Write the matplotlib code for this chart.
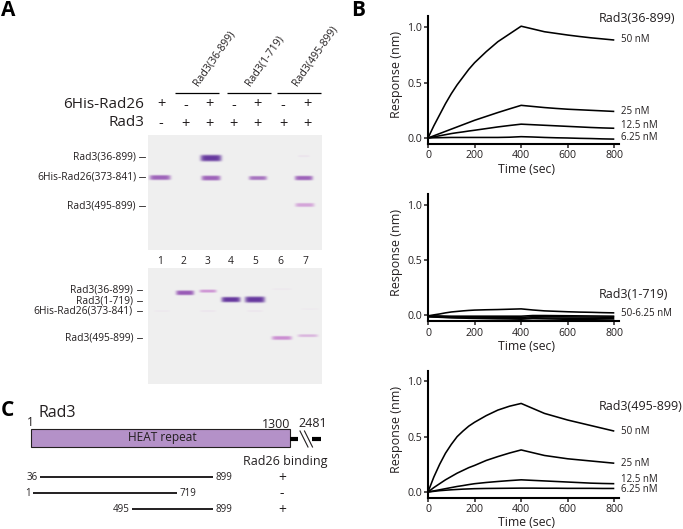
import numpy as np
import matplotlib
matplotlib.use("Agg")
import matplotlib.pyplot as plt
from matplotlib.patches import Rectangle

plt.rcParams['font.family'] = ['Open Sans', 'DejaVu Sans']
INK = '#231f20'
W, H = 683, 529

# ---- BLI sensorgrams
time_fine = [0, 25, 50, 75, 100, 125, 150, 175, 200, 250, 300, 350, 400, 450, 500, 550, 600, 650, 700, 750, 800]
a_50 = [0, .11, .21, .31, .40, .48, .55, .62, .68, .78, .87, .94, 1.01, .985, .96, .945, .93, .917, .905, .895, .885]
a_25 = [0, .02, .04, .06, .08, .10, .12, .14, .16, .195, .23, .263, .295, .285, .275, .267, .26, .255, .25, .245, .24]
a_12 = [0, .01, .02, .03, .04, .048, .055, .063, .07, .085, .10, .113, .125, .12, .115, .11, .105, .10, .095, .091, .088]
a_6 = [0, .002, .003, .004, .005, .005, .005, .005, .005, .005, .005, .007, .012, .009, .005, .002, 0, -.003, -.005, -.008, -.01]
b_top = [-.005, .004, .012, .022, .03, .035, .04, .044, .047, .05, .052, .055, .058, .048, .04, .036, .032, .029, .027, .024, .022]
b_2 = [-.005, -.005, -.006, -.007, -.008, -.008, -.008, -.008, -.008, -.008, -.008, -.008, -.008, -.002, -.002, -.003, -.004, -.005, -.006, -.007, -.008]
b_3 = [-.01, -.011, -.012, -.013, -.014, -.015, -.015, -.016, -.016, -.017, -.018, -.018, -.02, -.012, -.012, -.013, -.014, -.015, -.016, -.017, -.018]
b_4 = [-.012, -.014, -.016, -.018, -.02, -.021, -.022, -.023, -.024, -.025, -.026, -.027, -.03, -.022, -.024, -.025, -.026, -.027, -.028, -.029, -.03]
b_5 = [-.012, -.015, -.018, -.02, -.022, -.024, -.025, -.027, -.028, -.03, -.032, -.033, -.035, -.03, -.032, -.034, -.036, -.038, -.04, -.042, -.044]
c_50 = [0, .135, .25, .35, .43, .50, .55, .595, .63, .69, .74, .775, .80, .755, .71, .68, .65, .625, .60, .575, .55]
c_25 = [0, .04, .075, .11, .14, .17, .195, .22, .24, .285, .32, .352, .38, .355, .33, .315, .30, .29, .28, .27, .26]
c_12 = [0, .01, .02, .03, .04, .05, .058, .067, .075, .086, .095, .103, .11, .105, .10, .095, .09, .085, .08, .077, .075]
c_6 = [0, .006, .012, .016, .02, .023, .026, .028, .03, .032, .033, .034, .035, .035, .034, .034, .033, .033, .033, .032, .032]

panel_series = [[a_50, a_25, a_12, a_6], [b_top, b_2, b_3, b_4, b_5], [c_50, c_25, c_12, c_6]]
x_ticks = [0, 200, 400, 600, 800]
y_ticks = [0.0, 0.5, 1.0]
axis_box_px = [(16, 144), (194, 321.3), (370.7, 498)]   # top, bottom of each y axis

curve_titles = ['Rad3(36-899)', 'Rad3(1-719)', 'Rad3(495-899)']
title_y = [19, 295, 406]
conc_labels = [[('50 nM', 40), ('25 nM', 112), ('12.5 nM', 125), ('6.25 nM', 137)],
               [('50-6.25 nM', 314)],
               [('50 nM', 431), ('25 nM', 464), ('12.5 nM', 480), ('6.25 nM', 490)]]

# ---- Gels: centre x, centre y, half width, half height, strength, colour key
gel_boxes = [(148, 322, 135, 250), (148, 322, 268, 384)]
gel_bands = [
    (160, 177.5, 10.5, 2.4, .85, 'm'), (211, 158, 10.5, 3.2, 1.0, 'd'),
    (211, 178, 9.5, 2.4, .85, 'm'), (258, 178, 9, 2.0, .75, 'm'),
    (304, 178, 9, 2.2, .85, 'm'), (305, 205, 9.5, 1.9, .50, 'p'),
    (304, 156, 6, 1.0, .08, 'p'),
    (185, 292.7, 9, 2.3, .90, 'm'), (208, 291, 8.5, 1.5, .60, 'p'),
    (231, 299.5, 9.5, 2.6, 1.0, 'd'), (255, 299.5, 10, 3.0, 1.0, 'd'),
    (282, 338, 10, 1.9, .65, 'p'), (308, 335.7, 10, 1.4, .38, 'p'),
    (162, 311, 8, .9, .05, 'p'), (208, 311, 8, .9, .07, 'p'),
    (255, 311, 8, .9, .07, 'p'), (282, 289, 10, .9, .05, 'p'),
    (310, 309, 9, .9, .04, 'p'),
]
band_colours = {'d': (0.40, 0.22, 0.62), 'm': (0.56, 0.29, 0.69), 'p': (0.72, 0.35, 0.76)}
gel_bg = (0.94, 0.94, 0.94)

lane_x = [161, 186, 210, 234, 258, 283, 307]
rad26_row = ['+', '-', '+', '-', '+', '-', '+']
rad3_row = ['-', '+', '+', '+', '+', '+', '+']
lane_nums = ['1', '2', '3', '4', '5', '6', '7']
lane_num_x = [160, 183, 208, 231, 255, 280, 305]
groups = [('Rad3(36-899)', 175, 219, 200), ('Rad3(1-719)', 227, 271, 252), ('Rad3(495-899)', 277, 321, 299)]
gel1_labels = [('Rad3(36-899)', 157), ('6His-Rad26(373-841)', 177), ('Rad3(495-899)', 206)]
gel2_labels = [('Rad3(36-899)', 290), ('Rad3(1-719)', 300.7), ('6His-Rad26(373-841)', 311), ('Rad3(495-899)', 337.7)]

# ---- Domain map
constructs = [(36, 899, '+', 477), (1, 719, '-', 493), (495, 899, '+', 509)]

fig = plt.figure(figsize=(W / 100, H / 100), dpi=100, facecolor='white')

# overlay in pixel units
ov = fig.add_axes([0, 0, 1, 1], zorder=0)
ov.set_axis_off()


def T(x, y, s, size=7.4, ha='left', va='center', **kw):
    kw.setdefault('color', INK)
    return ov.text(x, y, s, fontsize=size, ha=ha, va=va, **kw)


# gels
for (x0, x1, y0, y1) in gel_boxes:
    ss = 3
    xs = np.linspace(x0, x1, int((x1 - x0) * ss))
    ys = np.linspace(y0, y1, int((y1 - y0) * ss))
    X, Y = np.meshgrid(xs, ys)
    img = np.ones(X.shape + (3,)) * np.array(gel_bg)
    for (bx, by, bw, bh, st, key) in gel_bands:
        if not (y0 <= by <= y1):
            continue
        a = st * np.exp(-((Y - by) / bh) ** 4 * 0.9) * np.exp(-((X - bx) / bw) ** 6)
        a = a[..., None]
        img = img * (1 - a) + np.array(band_colours[key]) * a
    ov.imshow(img, extent=(x0, x1, y1, y0), aspect='auto', interpolation='bilinear', zorder=1)
ov.set_xlim(0, W)
ov.set_ylim(H, 0)

# panel letters
for s, x, y in [('A', 1, 10), ('B', 351, 10), ('C', 1, 411)]:
    T(x, y, s, size=15, fontweight='bold', color='black')

# header of panel A
T(144, 104, '6His-Rad26', size=11, ha='right')
T(144, 123, 'Rad3', size=11, ha='right')
for x, a, b in zip(lane_x, rad26_row, rad3_row):
    T(x, 105, a, size=10.5, ha='center')
    T(x, 124, b, size=10.5, ha='center')
for name, x0, x1, tx in groups:
    ov.plot([x0, x1], [93, 93], color='black', lw=0.9, solid_capstyle='butt')
    T(tx, 88, name, size=7.6, rotation=55, rotation_mode='anchor', ha='left', va='bottom')
for x, s in zip(lane_num_x, lane_nums):
    T(x, 261, s, size=7.4, ha='center')
for s, y in gel1_labels:
    T(136, y, s, ha='right')
    ov.plot([139, 145], [y, y], color=INK, lw=0.6)
for s, y in gel2_labels:
    T(133, y, s, ha='right')
    ov.plot([137, 142], [y, y], color=INK, lw=0.6)

# panel C
res_px = lambda r: 33 + 0.2 * r
T(38.5, 413, 'Rad3', size=11.5)
T(27, 423, '1', size=8.5)
T(290, 424, '1300', size=9, ha='right')
T(327, 423.5, '2481', size=9, ha='right')
ov.add_patch(Rectangle((31, 429), 259, 18, facecolor='#b491c8', edgecolor=INK, lw=0.8, zorder=2))
T(162, 438, 'HEAT repeat', size=8.6, ha='center', zorder=3)
ov.plot([290, 298], [439, 439], color='black', lw=3, solid_capstyle='butt')
ov.plot([312, 321], [439, 439], color='black', lw=3, solid_capstyle='butt')
for off in (0, 4.5):
    ov.plot([300 + off, 308 + off], [431, 447], color=INK, lw=0.8)
T(243, 462, 'Rad26 binding', size=9)
for a, b, sign, y in constructs:
    ov.plot([res_px(a), res_px(b)], [y, y], color=INK, lw=1.4, solid_capstyle='butt')
    T(res_px(a) - 2.5, y, str(a), ha='right', size=7)
    T(res_px(b) + 2.5, y, str(b), size=7)
    T(282, y + 1, sign, size=10, ha='center')
ov.set_xlim(0, W)
ov.set_ylim(H, 0)

# sensorgrams
left_px, right_px = 428, 619
x_right = 800 * (right_px - left_px) / 186.3
for series, (top, bot), title, ty, concs in zip(panel_series, axis_box_px, curve_titles, title_y, conc_labels):
    ax = fig.add_axes([left_px / W, 1 - bot / H, (right_px - left_px) / W, (bot - top) / H], zorder=2)
    ax.patch.set_alpha(0)
    zero_offset = 6.0 / 110.7
    ax.set_xlim(0, x_right)
    ax.set_ylim(-zero_offset, (bot - top) / 110.7 - zero_offset)
    for s in series:
        ax.plot(time_fine, s, color='black', lw=1.15, clip_on=False, solid_capstyle='butt')
    ax.set_xticks(x_ticks)
    ax.set_yticks(y_ticks)
    ax.set_yticklabels(['0.0', '0.5', '1.0'])
    for side in ('top', 'right'):
        ax.spines[side].set_visible(False)
    for side in ('left', 'bottom'):
        ax.spines[side].set_linewidth(1.5)
    ax.tick_params(axis='both', length=3, width=1.1, labelsize=7.6, colors=INK, pad=1.5)
    ax.set_xlabel('Time (sec)', fontsize=8.8, color=INK, labelpad=1)
    ax.xaxis.set_label_coords(0.518, -0.145)
    ax.set_ylabel('Response (nm)', fontsize=9, color=INK)
    ax.yaxis.set_label_coords(-0.13, 0.54)
    T(599, ty, title, size=9)
    for s, y in concs:
        T(621, y, s, size=7)

fig.savefig('out.png', dpi=100)
